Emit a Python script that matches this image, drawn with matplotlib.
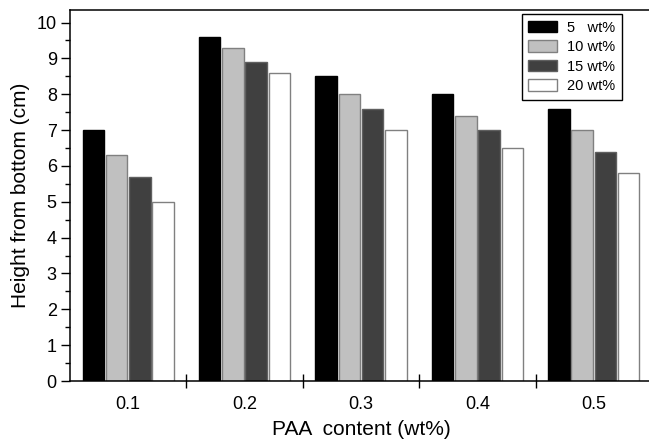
import numpy as np
import matplotlib.pyplot as plt
from matplotlib.ticker import MultipleLocator

plt.rcParams['font.family'] = ['Liberation Sans', 'DejaVu Sans']

# data
paa = [0.1, 0.2, 0.3, 0.4, 0.5]
series = ['5   wt%', '10 wt%', '15 wt%', '20 wt%']
h_5 = [7.0, 9.6, 8.5, 8.0, 7.6]
h_10 = [6.3, 9.3, 8.0, 7.4, 7.0]
h_15 = [5.7, 8.9, 7.6, 7.0, 6.4]
h_20 = [5.0, 8.6, 7.0, 6.5, 5.8]
heights = [h_5, h_10, h_15, h_20]
fills = ['#000000', '#c0c0c0', '#404040', '#ffffff']
edges = ['#000000', '#808080', '#606060', '#808080']

fig = plt.figure(figsize=(6.49, 4.41), dpi=100)
ax = fig.add_axes([70 / 649, 60 / 441, 582 / 649, 371 / 441])

x = np.array(paa)
pitch = 0.02
for i, (vals, fc, ec, lab) in enumerate(zip(heights, fills, edges, series)):
    ax.bar(x + (i - 1.5) * pitch, vals, width=0.0185, color=fc,
           edgecolor=ec, linewidth=1.0, label=lab)

ax.set_xlim(0.05, 0.55)
ax.set_ylim(0, 10.35)

# labels at group centres, ticks between groups
ax.set_xticks(paa)
ax.set_xticklabels([str(p) for p in paa])
ax.set_xticks([0.15, 0.25, 0.35, 0.45], minor=True)
ax.tick_params(axis='x', which='major', length=0, pad=11, labelsize=13)
ax.tick_params(axis='x', which='minor', direction='inout', length=10, width=1)

ax.yaxis.set_major_locator(MultipleLocator(1))
ax.yaxis.set_minor_locator(MultipleLocator(0.5))
ax.tick_params(axis='y', which='major', direction='out', length=6.5, width=1,
               labelsize=13, pad=3)
ax.tick_params(axis='y', which='minor', direction='out', length=3.5, width=1)

ax.spines['right'].set_visible(False)
for s in ['left', 'bottom', 'top']:
    ax.spines[s].set_linewidth(1.1)

ax.set_xlabel('PAA  content (wt%)', fontsize=15, labelpad=5)
ax.set_ylabel('Height from bottom (cm)', fontsize=15, labelpad=5)

leg = ax.legend(loc='upper right', bbox_to_anchor=(621.7 / 649, 1 - 14 / 441),
                bbox_transform=fig.transFigure, borderaxespad=0,
                fontsize=10.5, fancybox=False, framealpha=1,
                handlelength=1.95, handleheight=0.85, labelspacing=0.38,
                handletextpad=0.7, borderpad=0.45)
leg.get_frame().set_edgecolor('black')
leg.get_frame().set_linewidth(1.0)

fig.savefig('out.png', dpi=100)
